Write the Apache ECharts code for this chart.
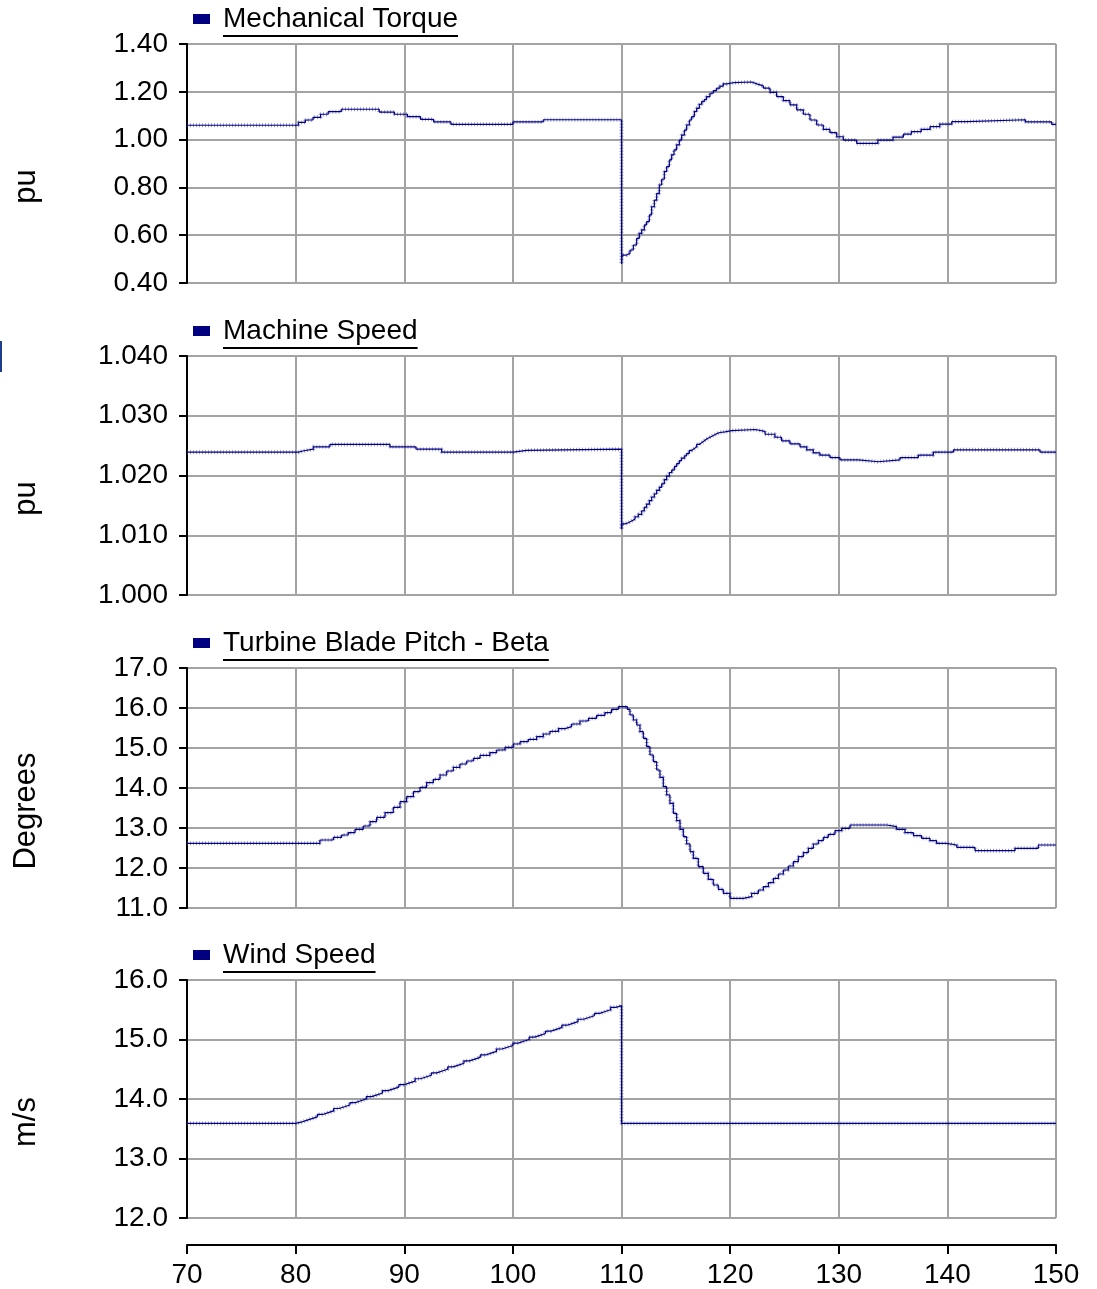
<!DOCTYPE html>
<html><head><meta charset="utf-8">
<script src="https://cdn.jsdelivr.net/npm/echarts@6/dist/echarts.min.js"></script>
<style>html,body{margin:0;padding:0;background:#fff}#c{width:1097px;height:1289px}</style>
</head><body><div id="c"></div>
<script>
// ---- data (time in s) ----
const xTicks = [70, 80, 90, 100, 110, 120, 130, 140, 150];

const torqueT = [70, 80.25, 80.9, 81.6, 82.3, 83.0, 84.2, 87.7, 89.1, 90.3, 91.5, 92.7, 94.3, 100.0, 102.8, 110.0, 110.05,
  110.475, 110.782, 111.089, 111.396, 111.641, 111.856, 112.101, 112.316, 112.562, 112.776, 113.022, 113.237, 113.482, 113.697, 113.943, 114.157, 114.403, 114.618, 114.832, 115.078, 115.323, 115.538, 115.784, 115.999, 116.244, 116.459, 116.704, 116.919, 117.165, 117.379, 117.625, 117.84, 118.147, 118.453, 118.76, 119.067, 119.374, 119.681, 120.295,
  122.0, 122.45, 123.06, 123.67, 124.28, 124.9, 125.51, 126.13, 126.74, 127.35, 127.97, 128.58, 129.19, 129.81, 130.42, 131.65, 133.6, 135.0, 135.95, 136.7, 137.6, 138.4, 139.3, 140.4, 141.8, 147.2, 149.6, 150];
const torqueV = [1.06, 1.072, 1.082, 1.093, 1.106, 1.117, 1.127, 1.115, 1.106, 1.096, 1.085, 1.074, 1.064, 1.074, 1.083, 0.48, 0.517,
  0.524, 0.538, 0.559, 0.587, 0.608, 0.622, 0.643, 0.657, 0.685, 0.719, 0.747, 0.775, 0.810, 0.834, 0.866, 0.887, 0.915, 0.936, 0.957, 0.978, 0.998, 1.019, 1.040, 1.061, 1.082, 1.096, 1.117, 1.131, 1.148, 1.159, 1.168, 1.180, 1.194, 1.205, 1.215, 1.224, 1.233, 1.238, 1.241,
  1.233, 1.225, 1.215, 1.198, 1.180, 1.163, 1.145, 1.124, 1.106, 1.082, 1.061, 1.043, 1.029, 1.012, 0.998, 0.984, 0.998, 1.010, 1.023, 1.033, 1.043, 1.054, 1.065, 1.075, 1.083, 1.074, 1.064, 1.064];

const speedT = [70, 80.25, 80.65, 81.63, 83.16, 88.69, 91.08, 93.45, 100.04, 101.27, 110.0, 110.045,
  110.321, 110.628, 110.935, 111.242, 111.549, 111.856, 112.101, 112.316, 112.562, 112.776, 113.022, 113.237, 113.482, 113.697, 113.943, 114.157, 114.403, 114.618, 114.863, 115.078, 115.323, 115.538, 115.784, 115.999, 116.244, 116.459, 116.704, 116.919, 117.165, 117.379, 117.625, 117.84, 118.147, 118.453, 118.76, 119.067, 119.527, 120.141,
  122.29, 123.21, 124.13, 124.74, 125.51, 126.43, 127.05, 127.66, 128.27, 129.19, 130.11, 131.8, 133.64, 135.64, 137.33, 138.71, 140.55, 148.53, 150];
const speedV = [1.0239, 1.0241, 1.0244, 1.0248, 1.0252, 1.0248, 1.0244, 1.0239, 1.0242, 1.0244, 1.0110, 1.0119,
  1.0121, 1.0124, 1.0127, 1.0131, 1.0135, 1.0141, 1.0147, 1.0152, 1.0158, 1.0164, 1.0169, 1.0175, 1.0180, 1.0186, 1.0193, 1.0199, 1.0205, 1.0209, 1.0215, 1.0220, 1.0225, 1.0229, 1.0233, 1.0237, 1.0242, 1.0245, 1.0248, 1.0252, 1.0255, 1.0258, 1.0261, 1.0264, 1.0267, 1.0270, 1.0272, 1.0273, 1.0275, 1.0277,
  1.0274, 1.0269, 1.0264, 1.0258, 1.0253, 1.0248, 1.0243, 1.0238, 1.0234, 1.0230, 1.0226, 1.0223, 1.0226, 1.0230, 1.0234, 1.0239, 1.0243, 1.0239, 1.0239];

const pitchT = [70, 82.24, 83.47, 84.24, 84.85, 85.47, 86.23, 86.85, 87.46, 88.23, 88.99, 89.61, 90.22, 90.84, 91.45, 92.06, 92.68, 93.29, 93.91, 94.52, 95.13, 95.75, 96.36, 96.97, 97.89, 98.51, 99.27, 100.04, 100.66, 101.42, 102.19, 102.8, 103.42, 104.19, 104.8, 105.41, 106.18, 106.95, 107.71, 108.48, 109.09, 109.71,
  110.54, 110.78, 111.09, 111.4, 111.7, 112.01, 112.32, 112.62, 112.93, 113.24, 113.54, 113.85, 114.16, 114.46, 114.77, 115.08, 115.39, 115.69, 116.0, 116.31, 116.61, 117.07, 117.53, 117.99, 118.45, 118.91, 119.37, 119.99, 121.22, 121.98, 122.6, 123.06, 123.52, 123.98, 124.44, 124.9, 125.36, 125.82, 126.28, 126.74, 127.2, 127.66, 128.12, 128.58, 129.04, 129.65, 130.27, 131.04, 134.41, 135.33, 136.1, 136.87, 137.63, 138.4, 139.01, 139.93, 140.86, 142.54, 146.23, 148.37, 150];
const pitchV = [12.617, 12.7, 12.767, 12.825, 12.883, 12.967, 13.05, 13.158, 13.267, 13.383, 13.517, 13.658, 13.783, 13.908, 14.017, 14.133, 14.217, 14.325, 14.425, 14.517, 14.6, 14.675, 14.742, 14.817, 14.883, 14.95, 15.017, 15.1, 15.158, 15.217, 15.283, 15.35, 15.417, 15.483, 15.533, 15.6, 15.675, 15.742, 15.817, 15.883, 15.967, 16.033,
  15.967, 15.825, 15.7, 15.575, 15.408, 15.242, 15.033, 14.825, 14.658, 14.45, 14.267, 14.033, 13.825, 13.617, 13.367, 13.183, 12.967, 12.783, 12.6, 12.408, 12.242, 12.033, 11.867, 11.717, 11.575, 11.467, 11.367, 11.242, 11.283, 11.367, 11.45, 11.533, 11.633, 11.742, 11.85, 11.95, 12.05, 12.158, 12.283, 12.383, 12.492, 12.6, 12.683, 12.767, 12.842, 12.933, 12.992, 13.075, 13.033, 12.967, 12.883, 12.808, 12.742, 12.683, 12.617, 12.575, 12.517, 12.433, 12.492, 12.575, 12.575];

const windT = [70, 80, 80.5, 81, 81.5, 82, 82.5, 83, 83.5, 84, 84.5, 85, 85.5, 86, 86.5, 87, 87.5, 88, 88.5, 89, 89.5, 90, 90.5, 91, 91.5, 92, 92.5, 93, 93.5, 94, 94.5, 95, 95.5, 96, 96.5, 97, 97.5, 98, 98.5, 99, 99.5, 100, 100.5, 101, 101.5, 102, 102.5, 103, 103.5, 104, 104.5, 105, 105.5, 106, 106.5, 107, 107.5, 108, 108.5, 109, 109.5, 110, 150];
const windV = [13.59, 13.61, 13.64, 13.67, 13.70, 13.74, 13.77, 13.80, 13.84, 13.87, 13.90, 13.94, 13.97, 14.00, 14.04, 14.07, 14.10, 14.14, 14.17, 14.20, 14.24, 14.27, 14.30, 14.34, 14.37, 14.40, 14.44, 14.47, 14.50, 14.54, 14.57, 14.60, 14.64, 14.67, 14.70, 14.74, 14.77, 14.80, 14.84, 14.87, 14.90, 14.94, 14.97, 15.00, 15.04, 15.07, 15.10, 15.14, 15.17, 15.20, 15.24, 15.27, 15.30, 15.34, 15.37, 15.40, 15.44, 15.47, 15.50, 15.54, 15.57, 13.59, 13.59];

const names = ['Mechanical Torque', 'Machine Speed', 'Turbine Blade Pitch - Beta', 'Wind Speed'];
const units = ['pu', 'pu', 'Degrees', 'm/s'];
const yMin = [0.4, 1.0, 11, 12];
const yMax = [1.4, 1.04, 17, 16];
const yStep = [0.2, 0.01, 1, 1];
const yDec = [2, 3, 1, 1];

// ---- layout / style ----
const FONT = '"Liberation Sans", Arial, sans-serif';
const LINE = '#000080';
const GRIDC = '#a3a3a3';
const FS = 28;
const tops = [44, 356, 668, 980];
const heights = [239, 239, 240, 238];
const series = [[torqueT, torqueV], [speedT, speedV], [pitchT, pitchV], [windT, windV]];

const ctx = document.createElement('canvas').getContext('2d');
ctx.font = FS + 'px "Liberation Sans"';

const option = {
  animation: false,
  backgroundColor: '#fff',
  grid: tops.map((t, i) => ({ left: 187, width: 869, top: t, height: heights[i] })),
  xAxis: tops.map((t, i) => ({
    type: 'value', gridIndex: i, min: 70, max: 150, interval: 10,
    offset: i === 3 ? 27 : 0,
    axisLine: { show: i === 3, lineStyle: { color: '#000', width: 2 } },
    axisTick: { show: i === 3, length: 9, lineStyle: { color: '#000', width: 2 } },
    axisLabel: { show: i === 3, fontSize: FS, color: '#000', fontFamily: FONT, margin: 16 },
    splitLine: { show: true, lineStyle: { color: GRIDC, width: 2 } }
  })),
  yAxis: tops.map((t, i) => ({
    type: 'value', gridIndex: i, min: yMin[i], max: yMax[i], interval: yStep[i],
    name: units[i], nameLocation: 'middle', nameRotate: 90, nameGap: 145,
    nameTextStyle: { fontSize: 31, color: '#000', fontFamily: FONT, padding: [0, 46, 0, 0] },
    axisLine: { show: true, lineStyle: { color: '#000', width: 2 } },
    axisTick: { show: true, length: 8, lineStyle: { color: '#000', width: 2 } },
    axisLabel: { fontSize: FS, color: '#000', fontFamily: FONT, margin: 19,
      formatter: v => v.toFixed(yDec[i]) },
    splitLine: { show: true, lineStyle: { color: GRIDC, width: 2 } }
  })),
  legend: names.map((n, i) => ({
    data: [n], left: 193, top: tops[i] - 23 - 16, padding: 0,
    icon: 'rect', itemWidth: 17, itemHeight: 10, selectedMode: false,
    itemStyle: { color: LINE },
    textStyle: { fontSize: FS, color: '#000', fontFamily: FONT, padding: [0, 0, 0, 8] }
  })),
  series: [],
  graphic: []
};

series.forEach((s, i) => {
  const data = s[0].map((t, k) => [t, s[1][k]]);
  option.series.push({
    name: names[i] + ' ', type: 'line', xAxisIndex: i, yAxisIndex: i, step: 'end',
    data, showSymbol: false, silent: true, z: 1,
    lineStyle: { color: 'rgba(60,60,170,0.5)', width: 4, type: [1, 2] }
  });
  option.series.push({
    name: names[i], type: 'line', xAxisIndex: i, yAxisIndex: i, step: 'end',
    data, showSymbol: false, z: 2,
    color: LINE,
    lineStyle: { color: LINE, width: 1.2 }
  });
  const w = ctx.measureText(names[i]).width;
  option.graphic.push({
    type: 'line', silent: true,
    shape: { x1: 223, y1: tops[i] - 8, x2: 223 + w, y2: tops[i] - 8 },
    style: { stroke: '#000', lineWidth: 2 }
  });
});
option.graphic.push({ type: 'rect', left: 0, top: 341, shape: { width: 2, height: 31 }, style: { fill: '#1f3d8c' } });

const chart = echarts.init(document.getElementById('c'));
chart.setOption(option);
</script>
</body></html>
